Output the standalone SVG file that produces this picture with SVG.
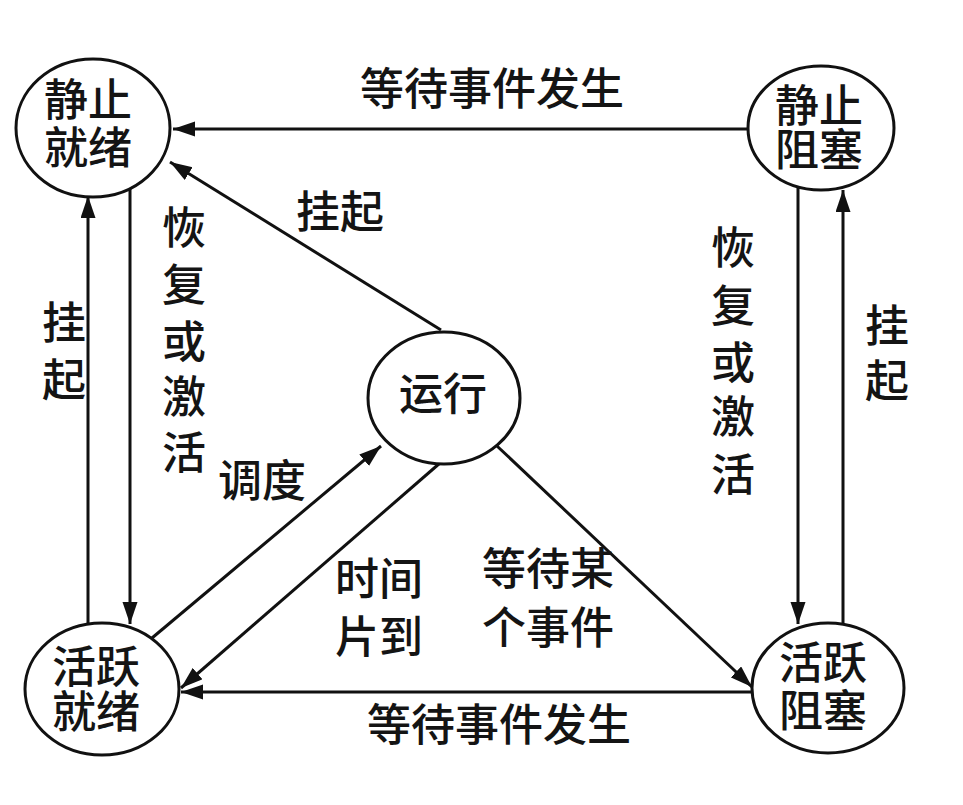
<svg xmlns="http://www.w3.org/2000/svg" width="963" height="805" viewBox="0 0 963 805">
<style>
.node ellipse{fill:#fff;stroke:#111;stroke-width:3}
text{font-family:"Noto Sans CJK SC","Noto Sans CJK JP",sans-serif;font-size:44px;font-weight:500;fill:#141414;text-anchor:middle;dominant-baseline:central}
.edge{stroke:#111;stroke-width:3;fill:none;marker-end:url(#arr)}
</style>
<defs>
<marker id="arr" markerUnits="userSpaceOnUse" markerWidth="24" markerHeight="16" refX="22" refY="7.5" orient="auto">
<path d="M0,0 L22,7.5 L0,15 z" fill="#111"/>
</marker>
</defs>
<rect width="963" height="805" fill="#fff"/>
<g id="connectors">
<path class="edge" d="M748,129 L173,129"/>
<path class="edge" d="M441,330 L170,162"/>
<path class="edge" d="M88,624 L88,196"/>
<path class="edge" d="M130,188 L130,624"/>
<path class="edge" d="M152,638 L381,446"/>
<path class="edge" d="M440,463 L181,688"/>
<path class="edge" d="M497,446 L752,687"/>
<path class="edge" d="M752,692 L181,692"/>
<path class="edge" d="M798,186 L798,624"/>
<path class="edge" d="M843,623 L843,190"/>
</g>
<g id="labels">
<text x="492" y="86">等待事件发生</text>
<text x="499" y="722">等待事件发生</text>
<text x="340" y="209">挂起</text>
<text x="262" y="478">调度</text>
<text x="379" y="576">时间<tspan x="379" dy="58">片到</tspan></text>
<text x="548" y="566">等待某<tspan x="548" dy="59">个事件</tspan></text>
<text x="64" y="320">挂<tspan x="64" dy="57">起</tspan></text>
<text x="184" y="225">恢<tspan x="184" dy="57">复</tspan><tspan x="184" dy="57">或</tspan><tspan x="184" dy="55">激</tspan><tspan x="184" dy="56">活</tspan></text>
<text x="733" y="245">恢<tspan x="733" dy="58">复</tspan><tspan x="733" dy="57">或</tspan><tspan x="733" dy="54">激</tspan><tspan x="733" dy="58">活</tspan></text>
<text x="887" y="323">挂<tspan x="887" dy="55">起</tspan></text>
</g>
<g id="static-ready" class="node">
<ellipse cx="93" cy="128" rx="77" ry="69"/>
<text x="88" y="97">静止<tspan x="88" dy="48">就绪</tspan></text>
</g>
<g id="static-blocked" class="node">
<ellipse cx="821" cy="128" rx="73" ry="62"/>
<text x="819" y="103">静止<tspan x="819" dy="44">阻塞</tspan></text>
</g>
<g id="active-ready" class="node">
<ellipse cx="102" cy="689" rx="77" ry="66"/>
<text x="96" y="664">活跃<tspan x="96" dy="45">就绪</tspan></text>
</g>
<g id="active-blocked" class="node">
<ellipse cx="828" cy="688" rx="76" ry="65"/>
<text x="823" y="660">活跃<tspan x="823" dy="48">阻塞</tspan></text>
</g>
<g id="running" class="node">
<ellipse cx="444" cy="398" rx="76" ry="66"/>
<text x="443" y="391">运行</text>
</g>
</svg>
